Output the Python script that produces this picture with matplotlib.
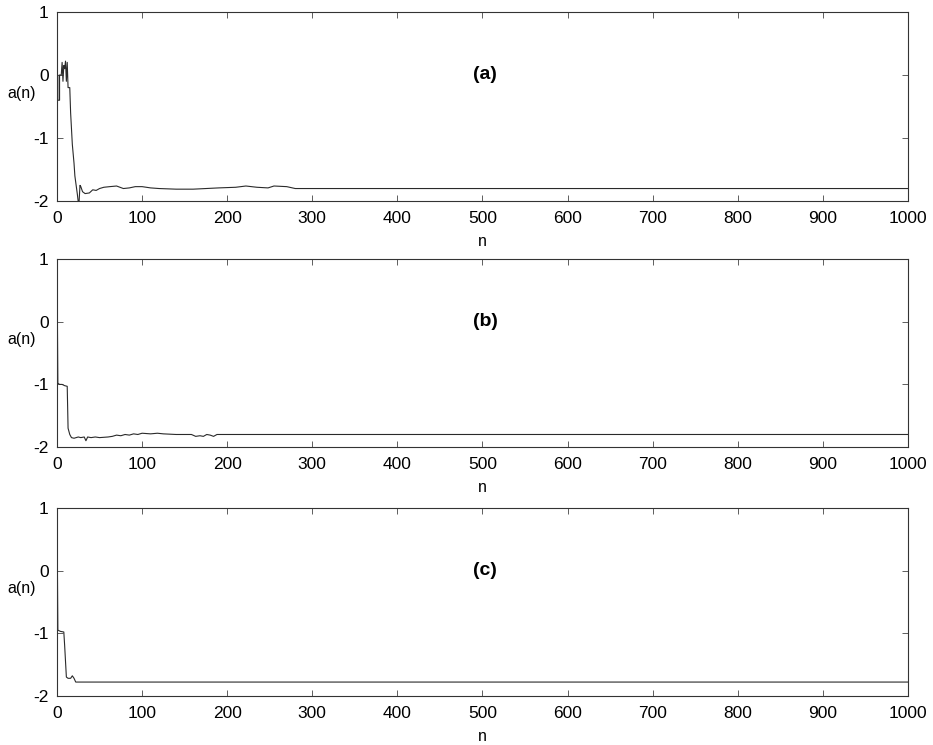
import matplotlib
matplotlib.use("Agg")
import matplotlib.pyplot as plt

# Estimated coefficient a(n) for three adaptive schemes (breakpoints of each trace)
n_a = [0, 1, 1, 3, 3, 5, 6, 7, 8, 9, 10, 11, 12, 13, 15, 16, 18, 20, 21, 23, 24, 25,
       26, 27, 28, 30, 33, 38, 42, 46, 50, 55, 62, 70, 78, 85, 92, 100, 110, 120,
       140, 160, 175, 190, 210, 222, 235, 248, 255, 270, 280, 1000]
a_a = [0.0, 0.0, -0.4, -0.4, 0.0, 0.0, 0.2, -0.1, 0.15, 0.1, 0.22, -0.1, 0.2, -0.2,
       -0.2, -0.6, -1.1, -1.4, -1.6, -1.8, -1.9, -2.02, -2.0, -1.75, -1.77, -1.85,
       -1.88, -1.87, -1.82, -1.83, -1.8, -1.78, -1.77, -1.76, -1.8, -1.79, -1.77,
       -1.77, -1.79, -1.8, -1.81, -1.81, -1.8, -1.79, -1.78, -1.76, -1.78, -1.79,
       -1.76, -1.77, -1.8, -1.8]

n_b = [0, 1, 3, 6, 9, 12, 13, 15, 17, 20, 25, 28, 32, 34, 36, 40, 45, 50, 60, 65, 70,
       75, 80, 85, 90, 95, 100, 110, 118, 125, 140, 158, 163, 168, 172, 176, 180, 184,
       188, 1000]
a_b = [0.9, -0.98, -1.0, -1.0, -1.02, -1.03, -1.7, -1.8, -1.85, -1.86, -1.84, -1.85,
       -1.84, -1.9, -1.84, -1.85, -1.84, -1.85, -1.84, -1.83, -1.81, -1.82, -1.8,
       -1.81, -1.79, -1.8, -1.78, -1.79, -1.78, -1.79, -1.8, -1.8, -1.83, -1.82,
       -1.83, -1.8, -1.81, -1.83, -1.8, -1.8]

n_c = [0, 1, 4, 8, 9, 11, 13, 16, 18, 20, 22, 1000]
a_c = [0.9, -0.95, -0.97, -0.98, -1.2, -1.7, -1.72, -1.72, -1.68, -1.72, -1.78, -1.78]

panel_labels = ["(a)", "(b)", "(c)"]
x_ticks = [0, 100, 200, 300, 400, 500, 600, 700, 800, 900, 1000]
y_ticks = [-2, -1, 0, 1]

plt.rcParams["font.family"] = ["Liberation Sans", "DejaVu Sans"]
plt.rcParams["axes.unicode_minus"] = False

fig = plt.figure(figsize=(9.33, 7.45), dpi=100)
rects = [
    [0.0611, 0.730, 0.912, 0.254],
    [0.0611, 0.400, 0.912, 0.252],
    [0.0611, 0.066, 0.912, 0.252],
]
series = [(n_a, a_a), (n_b, a_b), (n_c, a_c)]

for rect, (xs, ys), lab in zip(rects, series, panel_labels):
    ax = fig.add_axes(rect)
    ax.plot(xs, ys, color="#2a2a2a", linewidth=0.8)
    ax.set_xlim(0, 1000)
    ax.set_ylim(-2, 1)
    ax.set_xticks(x_ticks)
    ax.set_yticks(y_ticks)
    ax.tick_params(direction="in", top=True, right=True, length=4, width=0.6,
                   color="#444444", labelsize=12.5)
    ax.tick_params(axis="x", pad=7)
    ax.tick_params(axis="y", pad=6)
    for sp in ax.spines.values():
        sp.set_linewidth(0.8)
        sp.set_color("#333333")
    ax.set_xlabel("n", fontsize=11.5, labelpad=6)
    ax.set_ylabel("a(n)", fontsize=11.5, rotation=0)
    ax.yaxis.set_label_coords(-0.042, 0.53)
    ax.text(0.503, 0.67, lab, transform=ax.transAxes, ha="center", va="center",
            fontsize=14, fontweight="bold")

fig.savefig("out.png", dpi=100, facecolor="white")
